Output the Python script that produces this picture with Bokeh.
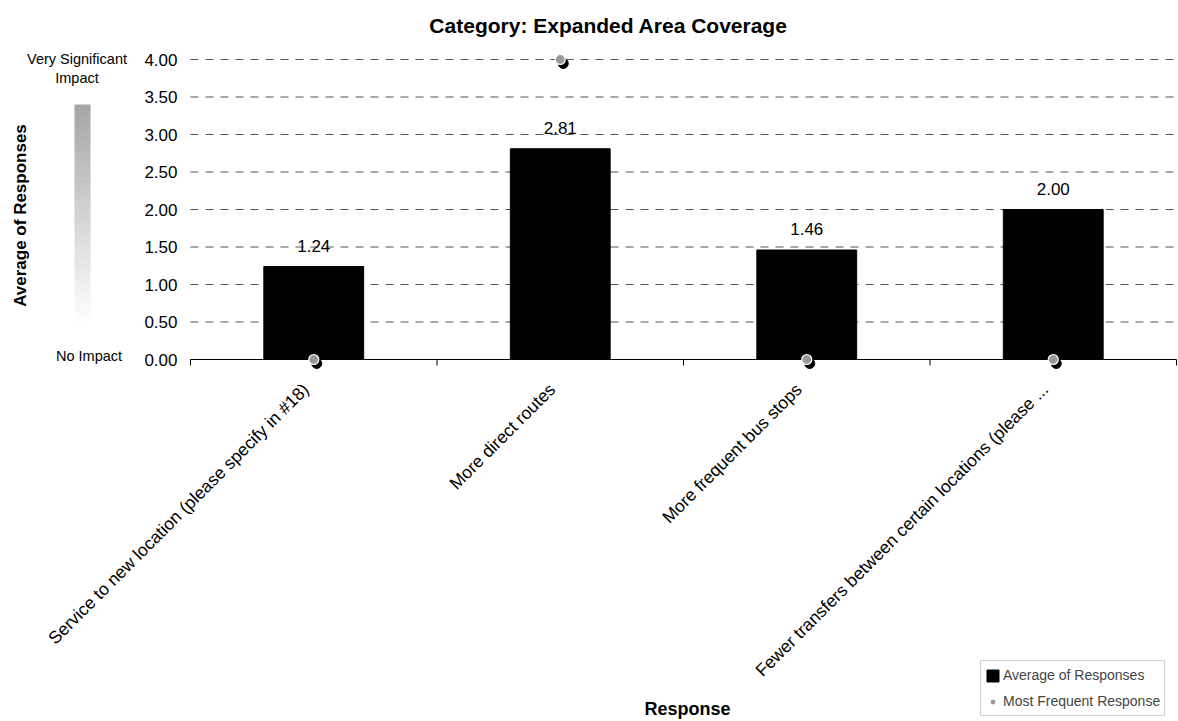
from math import pi
import numpy as np
from bokeh.plotting import figure
from bokeh.models import (Range1d, Label, BoxAnnotation, Legend, LegendItem,
                          ColumnDataSource)
from bokeh.transform import dodge
from bokeh.core.properties import value
from bokeh.embed import file_html
from bokeh.resources import INLINE

# ---------------- data ----------------
categories = [
    "Service to new location (please specify in #18)",
    "More direct routes",
    "More frequent bus stops",
    "Fewer transfers between certain locations (please ...",
]
avg_values = [1.24, 2.81, 1.46, 2.00]
mode_values = [0, 4, 0, 0]
y_ticks = [0.0, 0.5, 1.0, 1.5, 2.0, 2.5, 3.0, 3.5, 4.0]

FONT = "Liberation Sans"
W, H = 1178, 721

# plot-area geometry in page pixels
X0, PX = 190.0, 246.5     # page x of the first category boundary, px per category
Y0, PY = 359.0, 75.0      # page y of value 0, px per unit

n = len(categories)
xs = [i + 0.5 for i in range(n)]
bounds = [float(i) for i in range(n + 1)]

src = ColumnDataSource(dict(
    x=xs, avg=avg_values, mode=mode_values,
    lbl=[f"{v:.2f}" for v in avg_values],
))


def sy(y):
    return H - y


p = figure(width=W, height=H,
           x_range=Range1d(-X0 / PX, (W - X0) / PX),
           y_range=Range1d((Y0 - H) / PY, Y0 / PY),
           x_axis_location=None, y_axis_location=None, title=None,
           output_backend="svg", toolbar_location=None, min_border=0)
p.outline_line_color = None
p.background_fill_color = "white"
p.border_fill_color = "white"
for g in list(p.grid):
    g.visible = False

# horizontal dashed gridlines over the plot area only
gy = y_ticks[1:]
p.segment(x0=[bounds[0]] * len(gy), x1=[bounds[-1]] * len(gy), y0=gy, y1=gy,
          line_color="#555555", line_dash="8 7", line_width=1)

# value axis tick labels
p.text(x=[bounds[0]] * len(y_ticks), y=y_ticks, text=[f"{t:.2f}" for t in y_ticks],
       text_align="right", text_baseline="middle", x_offset=-13,
       text_font=value(FONT), text_font_size="17px", text_color="black")

# category axis line, boundary ticks and rotated labels
p.segment(x0=[bounds[0]], x1=[bounds[-1]], y0=[0], y1=[0], line_color="black", line_width=1)
p.ray(x=bounds, y=[0] * len(bounds), length=6, length_units="screen", angle=-pi / 2,
      line_color="black", line_width=1)
p.text(x=xs, y=[0] * n, text=categories, angle=pi / 4,
       text_align="right", text_baseline="middle", x_offset=-8, y_offset=27,
       text_font=value(FONT), text_font_size="17.5px", text_color="black")

# bars
bars = p.vbar(x="x", top="avg", bottom=0, width=0.405, source=src,
              fill_color="black", line_color="black")

# value labels
p.text(x="x", y="avg", text="lbl", source=src, text_align="center",
       text_baseline="alphabetic", y_offset=-21,
       text_font=value(FONT), text_font_size="17px", text_color="black")

# most frequent response markers (with shadow)
p.scatter(x=dodge("x", 3 / PX, range=p.x_range), y=dodge("mode", -4 / PY, range=p.y_range),
          source=src, size=10, fill_color="black", line_color="black")
dots = p.scatter(x="x", y="mode", source=src, size=10,
                 fill_color="#999999", line_color="white", line_width=1.2)

# title and axis titles
p.add_layout(Label(x=608, y=sy(25), x_units="screen", y_units="screen",
                   text="Category: Expanded Area Coverage", text_align="center",
                   text_baseline="alphabetic", text_font=FONT, text_font_size="21px",
                   text_font_style="bold", text_color="black"))
p.add_layout(Label(x=687, y=sy(708), x_units="screen", y_units="screen",
                   text="Response", text_align="center", text_baseline="middle",
                   text_font=FONT, text_font_size="18px", text_font_style="bold",
                   text_color="black"))
p.add_layout(Label(x=20, y=sy(215), x_units="screen", y_units="screen",
                   text="Average of Responses", text_align="center", text_baseline="middle",
                   angle=pi / 2, text_font=FONT, text_font_size="17px",
                   text_font_style="bold", text_color="black"))
for txt, lx, ly in [("Very Significant", 76.5, 58.5), ("Impact", 76.5, 77.5),
                    ("No Impact", 88.5, 355.5)]:
    p.add_layout(Label(x=lx, y=sy(ly), x_units="screen", y_units="screen",
                       text=txt, text_align="center", text_baseline="middle",
                       text_font=FONT, text_font_size="14.5px", text_color="black"))

# gradient scale bar (gray -> white)
g_top, g_bot, g_left, g_right = 104.0, 325.0, 74.0, 90.0
steps = 48
edges = np.linspace(g_top, g_bot, steps + 1)
for i in range(steps):
    t = i / (steps - 1)
    c = int(round(166 + (255 - 166) * t))
    p.add_layout(BoxAnnotation(left=g_left, right=g_right,
                               top=sy(edges[i]), bottom=sy(edges[i + 1]) - 0.6,
                               left_units="screen", right_units="screen",
                               top_units="screen", bottom_units="screen",
                               fill_color=f"#{c:02x}{c:02x}{c:02x}", fill_alpha=1.0,
                               line_color=None, level="underlay"))

# legend
legend = Legend(items=[LegendItem(label="Average of Responses", renderers=[bars]),
                       LegendItem(label="Most Frequent Response", renderers=[dots])],
                location=(980, sy(716)),
                label_text_font=FONT, label_text_font_size="14px",
                glyph_width=15, glyph_height=15, label_height=20, spacing=6,
                label_standoff=3, padding=4, margin=0, border_line_color="#a0a0a0",
                background_fill_alpha=1.0)
p.add_layout(legend)

open("out.html", "w").write(file_html(p, INLINE))
